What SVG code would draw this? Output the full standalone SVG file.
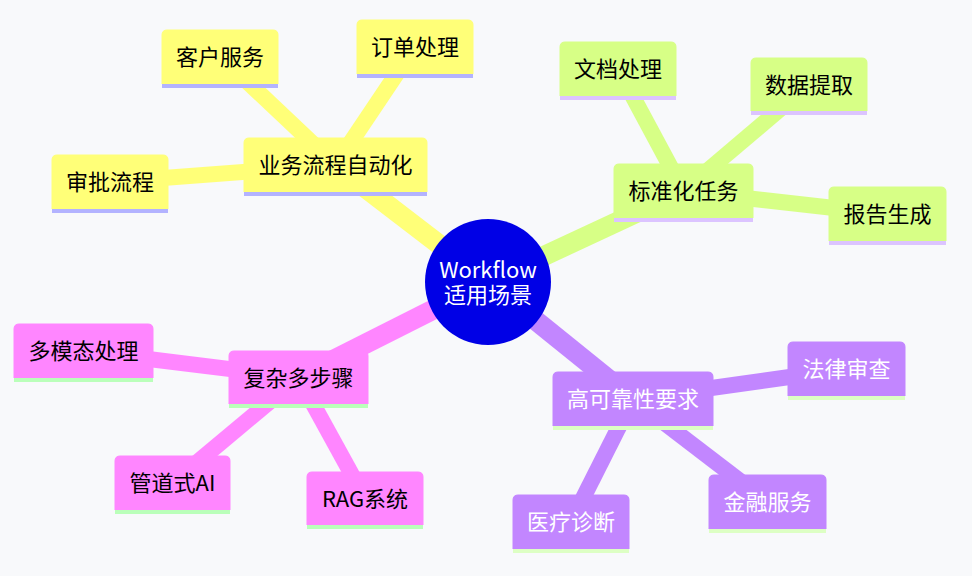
<svg xmlns="http://www.w3.org/2000/svg" width="972" height="576" viewBox="0 0 972 576">
<style>
text{font-family:"Noto Sans CJK SC","Noto Sans",sans-serif;font-size:22px;text-anchor:middle}
.e0{stroke-width:20;stroke-linecap:butt;fill:none}
.e1{stroke-width:16;stroke-linecap:butt;fill:none}
.y{fill:#ffff78;stroke:#ffff78}
.g{fill:#d7ff86;stroke:#d7ff86}
.p{fill:#c286ff;stroke:#c286ff}
.k{fill:#ff86ff;stroke:#ff86ff}
.ys{fill:#b3b3ff}
.gs{fill:#dcc4ff}
.ps{fill:#ddffc4}
.ks{fill:#baffba}
.dark{fill:#000}
.light{fill:#fff}
</style>
<rect width="972" height="576" fill="#f8f9fb"/>
<g id="connectors">
<line class="e0 y" x1="488" y1="282" x2="335.5" y2="165"/>
<line class="e0 g" x1="488" y1="282" x2="683.5" y2="191"/>
<line class="e0 p" x1="488" y1="282" x2="633" y2="399"/>
<line class="e0 k" x1="488" y1="282" x2="298.5" y2="377.5"/>
<line class="e1 y" x1="335.5" y1="165" x2="220.5" y2="56.5"/>
<line class="e1 y" x1="335.5" y1="165" x2="415" y2="46.5"/>
<line class="e1 y" x1="335.5" y1="165" x2="110" y2="182"/>
<line class="e1 g" x1="683.5" y1="191" x2="618" y2="69"/>
<line class="e1 g" x1="683.5" y1="191" x2="809" y2="84.5"/>
<line class="e1 g" x1="683.5" y1="191" x2="887.5" y2="214"/>
<line class="e1 p" x1="633" y1="399" x2="846.5" y2="369"/>
<line class="e1 p" x1="633" y1="399" x2="767.5" y2="502"/>
<line class="e1 p" x1="633" y1="399" x2="571" y2="522"/>
<line class="e1 k" x1="298.5" y1="377.5" x2="83.5" y2="351"/>
<line class="e1 k" x1="298.5" y1="377.5" x2="172.5" y2="483"/>
<line class="e1 k" x1="298.5" y1="377.5" x2="365" y2="498.5"/>
</g>
<g id="root">
<circle cx="488" cy="282" r="63" fill="#0000e6"/>
<text class="light" x="488" y="278"><tspan x="488" y="278">Workflow</tspan><tspan x="488" y="303">适用场景</tspan></text>
</g>
<g id="n-yewu">
<path class="y" stroke="none" d="M244,192V143Q244,138 249,138H422Q427,138 427,143V192Z"/>
<rect class="ys" x="244" y="192" width="183" height="4"/>
<text class="dark" x="335.5" y="173">业务流程自动化</text>
</g>
<g id="n-kehu">
<path class="y" stroke="none" d="M162,84V35Q162,30 167,30H273Q278,30 278,35V84Z"/>
<rect class="ys" x="162" y="84" width="116" height="4"/>
<text class="dark" x="220" y="65">客户服务</text>
</g>
<g id="n-dingdan">
<path class="y" stroke="none" d="M357,74V25Q357,20 362,20H468Q473,20 473,25V74Z"/>
<rect class="ys" x="357" y="74" width="116" height="4"/>
<text class="dark" x="415" y="55">订单处理</text>
</g>
<g id="n-shenpi">
<path class="y" stroke="none" d="M52,209V160Q52,155 57,155H163Q168,155 168,160V209Z"/>
<rect class="ys" x="52" y="209" width="116" height="4"/>
<text class="dark" x="110" y="190">审批流程</text>
</g>
<g id="n-biaozhun">
<path class="g" stroke="none" d="M614,218V169Q614,164 619,164H748Q753,164 753,169V218Z"/>
<rect class="gs" x="614" y="218" width="139" height="4"/>
<text class="dark" x="683.5" y="199">标准化任务</text>
</g>
<g id="n-wendang">
<path class="g" stroke="none" d="M560,96V47Q560,42 565,42H671Q676,42 676,47V96Z"/>
<rect class="gs" x="560" y="96" width="116" height="4"/>
<text class="dark" x="618" y="77">文档处理</text>
</g>
<g id="n-shuju">
<path class="g" stroke="none" d="M751,111V63Q751,58 756,58H862Q867,58 867,63V111Z"/>
<rect class="gs" x="751" y="111" width="116" height="4"/>
<text class="dark" x="809" y="92.5">数据提取</text>
</g>
<g id="n-baogao">
<path class="g" stroke="none" d="M829,241V192Q829,187 834,187H941Q946,187 946,192V241Z"/>
<rect class="gs" x="829" y="241" width="117" height="4"/>
<text class="dark" x="887.5" y="222">报告生成</text>
</g>
<g id="n-gaokekao">
<path class="p" stroke="none" d="M553,426V377Q553,372 558,372H708Q713,372 713,377V426Z"/>
<rect class="ps" x="553" y="426" width="160" height="4"/>
<text class="light" x="633" y="407">高可靠性要求</text>
</g>
<g id="n-falv">
<path class="p" stroke="none" d="M788,396V347Q788,342 793,342H900Q905,342 905,347V396Z"/>
<rect class="ps" x="788" y="396" width="117" height="4"/>
<text class="light" x="846.5" y="377">法律审查</text>
</g>
<g id="n-jinrong">
<path class="p" stroke="none" d="M709,529V480Q709,475 714,475H821Q826,475 826,480V529Z"/>
<rect class="ps" x="709" y="529" width="117" height="4"/>
<text class="light" x="767.5" y="510">金融服务</text>
</g>
<g id="n-yiliao">
<path class="p" stroke="none" d="M513,549V500Q513,495 518,495H624Q629,495 629,500V549Z"/>
<rect class="ps" x="513" y="549" width="116" height="4"/>
<text class="light" x="571" y="530">医疗诊断</text>
</g>
<g id="n-fuza">
<path class="k" stroke="none" d="M229,404V356Q229,351 234,351H363Q368,351 368,356V404Z"/>
<rect class="ks" x="229" y="404" width="139" height="4"/>
<text class="dark" x="298.5" y="385.5">复杂多步骤</text>
</g>
<g id="n-duomotai">
<path class="k" stroke="none" d="M14,378V329Q14,324 19,324H148Q153,324 153,329V378Z"/>
<rect class="ks" x="14" y="378" width="139" height="4"/>
<text class="dark" x="83.5" y="359">多模态处理</text>
</g>
<g id="n-guandao">
<path class="k" stroke="none" d="M115,510V461Q115,456 120,456H225Q230,456 230,461V510Z"/>
<rect class="ks" x="115" y="510" width="115" height="4"/>
<text class="dark" x="172.5" y="491">管道式AI</text>
</g>
<g id="n-rag">
<path class="k" stroke="none" d="M307,525V477Q307,472 312,472H418Q423,472 423,477V525Z"/>
<rect class="ks" x="307" y="525" width="116" height="4"/>
<text class="dark" x="365" y="506.5">RAG系统</text>
</g>
</svg>
